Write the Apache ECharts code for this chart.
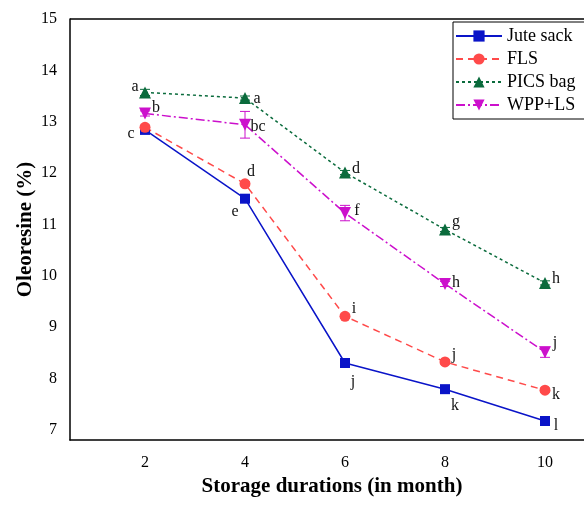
<!DOCTYPE html>
<html>
<head>
<meta charset="utf-8">
<script src="https://cdn.jsdelivr.net/npm/echarts@6/dist/echarts.min.js"></script>
<style>html,body{margin:0;padding:0;background:#fff}#c{width:584px;height:506px}</style>
</head>
<body>
<div id="c"></div>
<script>
// ---- data ----
const months = [2, 4, 6, 8, 10];
const juteSack = [12.84, 11.50, 8.30, 7.79, 7.17];
const fls      = [12.89, 11.79, 9.21, 8.32, 7.77];
const picsBag  = [13.57, 13.46, 12.01, 10.90, 9.86];
const wppLs    = [13.16, 12.94, 11.22, 9.84, 8.51];
const juteErr  = [0.04, 0.04, 0.04, 0.04, 0.04];
const flsErr   = [0.04, 0.04, 0.04, 0.04, 0.04];
const picsErr  = [0.06, 0.04, 0.04, 0.04, 0.04];
const wppErr   = [0.05, 0.26, 0.15, 0.05, 0.10];
const juteLetters = ['c', 'e', 'j', 'k', 'l'];
const flsLetters  = ['', 'd', 'i', 'j', 'k'];
const picsLetters = ['a', 'a', 'd', 'g', 'h'];
const wppLetters  = ['b', 'bc', 'f', 'h', 'j'];
const yTicks = [7, 8, 9, 10, 11, 12, 13, 14, 15];
const xTicks = [2, 4, 6, 8, 10];
const names = ['Jute sack', 'FLS', 'PICS bag', 'WPP+LS'];

// ---- styling ----
const FONT = '"Liberation Serif", "Times New Roman", serif';
const colors = ['#0a14c8', '#ff4a4a', '#0a6b3c', '#cc10cc'];
const symbols = ['rect', 'circle', 'triangle', 'triangle'];
const symbolSizes = [10, 11, 12, 12];
const symbolRot = [0, 0, 0, 180];
const lineTypes = ['solid', [7, 5], [3, 3], [9, 3, 2, 3]];
const labelOffsets = [
  [[-14, 4], [-10, 13], [8, 19], [10, 17], [11, 5]],
  [[0, 0], [6, -12], [9, -7], [9, -7], [11, 5]],
  [[-10, -6], [12, 1], [11, -4], [11, -8], [11, -4]],
  [[11, -6], [13, 2], [12, -2], [11, -1], [10, -9]]
];
const allVals = [juteSack, fls, picsBag, wppLs];
const allErr = [juteErr, flsErr, picsErr, wppErr];
const allLetters = [juteLetters, flsLetters, picsLetters, wppLetters];

const chart = echarts.init(document.getElementById('c'), null, {renderer: 'canvas'});

const series = [];
allVals.forEach((vals, i) => {
  series.push({
    name: names[i],
    type: 'line',
    data: months.map((m, j) => ({
      value: [m, vals[j]],
      label: {
        show: allLetters[i][j] !== '',
        formatter: allLetters[i][j],
        position: 'inside',
        offset: labelOffsets[i][j],
        color: '#111',
        fontFamily: FONT,
        fontSize: 16
      }
    })),
    symbol: symbols[i],
    symbolSize: symbolSizes[i],
    symbolRotate: symbolRot[i],
    itemStyle: {color: colors[i]},
    lineStyle: {color: colors[i], width: 1.5, type: lineTypes[i]},
    z: 3
  });
  series.push({
    type: 'custom',
    name: names[i] + '_err',
    data: months.map((m, j) => [m, vals[j], allErr[i][j]]),
    renderItem: function (params, api) {
      const x = api.value(0), y = api.value(1), e = api.value(2);
      const top = api.coord([x, y + e]);
      const bot = api.coord([x, y - e]);
      const w = 5;
      return {
        type: 'group',
        children: [
          {type: 'line', shape: {x1: top[0], y1: top[1], x2: bot[0], y2: bot[1]}, style: {stroke: colors[i], lineWidth: 1}},
          {type: 'line', shape: {x1: top[0] - w, y1: top[1], x2: top[0] + w, y2: top[1]}, style: {stroke: colors[i], lineWidth: 1}},
          {type: 'line', shape: {x1: bot[0] - w, y1: bot[1], x2: bot[0] + w, y2: bot[1]}, style: {stroke: colors[i], lineWidth: 1}}
        ]
      };
    },
    silent: true,
    z: 2
  });
});

chart.setOption({
  animation: false,
  backgroundColor: '#fff',
  grid: {left: 70, right: 0, top: 19, bottom: 66},
  legend: {
    data: names,
    orient: 'vertical',
    left: 453,
    top: 22,
    itemWidth: 46,
    itemHeight: 14,
    itemGap: 5,
    padding: [5, 40, 5, 2],
    borderColor: '#000',
    borderWidth: 1,
    backgroundColor: '#fff',
    textStyle: {fontFamily: FONT, fontSize: 18, color: '#000'}
  },
  xAxis: {
    type: 'value',
    min: 0.5,
    max: 10.78,
    name: 'Storage durations (in month)',
    nameLocation: 'middle',
    nameGap: 36,
    nameMoveOverlap: false,
    nameTextStyle: {fontFamily: FONT, fontSize: 21, fontWeight: 'bold', color: '#000', padding: [0, 0, 0, 10]},
    axisLine: {show: true, lineStyle: {color: '#000', width: 1.5}},
    axisTick: {show: false},
    splitLine: {show: false},
    axisLabel: {customValues: xTicks, fontFamily: FONT, fontSize: 16, color: '#000', margin: 15}
  },
  yAxis: {
    type: 'value',
    min: 6.8,
    max: 15,
    name: 'Oleoresine (%)',
    nameLocation: 'middle',
    nameGap: 34,
    nameMoveOverlap: false,
    nameTextStyle: {fontFamily: FONT, fontSize: 21, fontWeight: 'bold', color: '#000'},
    axisLine: {show: true, lineStyle: {color: '#000', width: 1.5}},
    axisTick: {show: false},
    splitLine: {show: false},
    axisLabel: {customValues: yTicks, fontFamily: FONT, fontSize: 16, color: '#000', margin: 13}
  },
  graphic: [{
    type: 'line',
    shape: {x1: 70, y1: 19, x2: 584, y2: 19},
    style: {stroke: '#000', lineWidth: 1.5},
    z: 1
  }],
  series: series
});
</script>
</body>
</html>
